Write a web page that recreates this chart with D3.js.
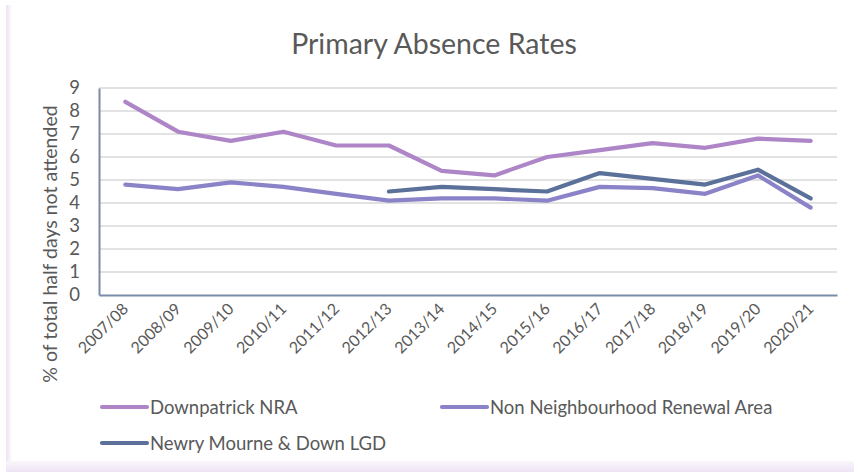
<!DOCTYPE html>
<html>
<head>
<meta charset="utf-8">
<script src="https://cdn.jsdelivr.net/npm/d3@7/dist/d3.min.js"></script>
<style>
  html, body { margin: 0; padding: 0; background: #fff; }
  svg { display: block; }
</style>
</head>
<body>
<svg id="chart" width="854" height="472"></svg>
<script>
// School years on the category axis
const years = ["2007/08","2008/09","2009/10","2010/11","2011/12","2012/13","2013/14",
               "2014/15","2015/16","2016/17","2017/18","2018/19","2019/20","2020/21"];

// % of total half days not attended
const downpatrickNRA = [8.4, 7.1, 6.7, 7.1, 6.5, 6.5, 5.4, 5.2, 6.0, 6.3, 6.6, 6.4, 6.8, 6.7];
const nonNRA         = [4.8, 4.6, 4.9, 4.7, 4.4, 4.1, 4.2, 4.2, 4.1, 4.7, 4.65, 4.4, 5.2, 3.8];
const newryLGD       = [null, null, null, null, null, 4.5, 4.7, 4.6, 4.5, 5.3, 5.05, 4.8, 5.45, 4.2];

const yTicks = [0, 1, 2, 3, 4, 5, 6, 7, 8, 9];

const seriesNames  = ["Downpatrick NRA", "Non Neighbourhood Renewal Area", "Newry Mourne & Down LGD"];
const seriesValues = [downpatrickNRA, nonNRA, newryLGD];
const seriesColors = ["#AE86C8", "#8A83C8", "#5B7199"];

const svg = d3.select("#chart");
const W = 854, H = 472;
const font = "Lato, 'Noto Sans', sans-serif";

// soft lavender frame round the chart
const defs = svg.append("defs");
const gb = defs.append("linearGradient").attr("id", "gBottom").attr("x1", 0).attr("y1", 0).attr("x2", 0).attr("y2", 1);
gb.append("stop").attr("offset", 0).attr("stop-color", "#FAF7FC");
gb.append("stop").attr("offset", 1).attr("stop-color", "#EDE3F5");
const gl = defs.append("linearGradient").attr("id", "gLeft").attr("x1", 0).attr("y1", 0).attr("x2", 1).attr("y2", 0);
gl.append("stop").attr("offset", 0).attr("stop-color", "#EBE1F3");
gl.append("stop").attr("offset", 1).attr("stop-color", "#FFFFFF");
svg.append("rect").attr("x", 0).attr("y", 0).attr("width", W).attr("height", H).attr("fill", "#fff");
svg.append("rect").attr("x", 6).attr("y", 5).attr("width", 6).attr("height", 457).attr("fill", "url(#gLeft)");
svg.append("rect").attr("x", 6).attr("y", 461).attr("width", W - 6).attr("height", 11).attr("fill", "url(#gBottom)");

const plot = { left: 99, right: 837, top: 88, bottom: 295 };

const x = d3.scaleBand().domain(years).range([plot.left, plot.right]).padding(0);
const y = d3.scaleLinear().domain([0, 9]).range([plot.bottom, plot.top]);
const cx = d => x(d) + x.bandwidth() / 2;

// title
svg.append("text")
  .attr("x", 434).attr("y", 54)
  .attr("text-anchor", "middle")
  .attr("font-family", font).attr("font-size", 28.5)
  .attr("fill", "#595959")
  .text("Primary Absence Rates");

// horizontal gridlines
svg.append("g")
  .selectAll("line")
  .data(yTicks.filter(t => t > 0))
  .join("line")
  .attr("x1", plot.left).attr("x2", plot.right)
  .attr("y1", d => y(d)).attr("y2", d => y(d))
  .attr("stroke", "#D9D9D9").attr("stroke-width", 1.5);

// y axis
const yAxis = svg.append("g")
  .attr("transform", `translate(${plot.left},0)`)
  .call(d3.axisLeft(y).tickValues(yTicks).tickSize(0).tickPadding(19));
yAxis.select(".domain").attr("stroke", "#7A8BA9").attr("stroke-width", 2);
yAxis.selectAll("text").attr("font-family", font).attr("font-size", 18.5).attr("fill", "#595959");

// x axis
const xAxis = svg.append("g")
  .attr("transform", `translate(0,${plot.bottom})`)
  .call(d3.axisBottom(x).tickSize(0).tickFormat(() => ""));
xAxis.select(".domain").attr("stroke", "#7A8BA9").attr("stroke-width", 2);

svg.append("g")
  .selectAll("text")
  .data(years)
  .join("text")
  .attr("transform", d => `translate(${cx(d) + 4},${plot.bottom + 15}) rotate(-45)`)
  .attr("text-anchor", "end")
  .attr("font-family", font).attr("font-size", 16)
  .attr("fill", "#595959")
  .text(d => d);

// y axis title
svg.append("text")
  .attr("transform", `translate(57,244) rotate(-90)`)
  .attr("text-anchor", "middle")
  .attr("font-family", font).attr("font-size", 19.5)
  .attr("fill", "#595959")
  .text("% of total half days not attended");

// series lines
const line = d3.line()
  .defined(d => d.v !== null)
  .x(d => cx(d.year))
  .y(d => y(d.v));

seriesValues.forEach((vals, i) => {
  const pts = years.map((yr, j) => ({ year: yr, v: vals[j] }));
  svg.append("path")
    .datum(pts)
    .attr("d", line)
    .attr("fill", "none")
    .attr("stroke", seriesColors[i])
    .attr("stroke-width", 4.2)
    .attr("stroke-linecap", "round")
    .attr("stroke-linejoin", "round");
});

// legend
const legendPos = [[100, 407], [440, 407], [100, 443]];
seriesNames.forEach((name, i) => {
  const [lx, ly] = legendPos[i];
  svg.append("line")
    .attr("x1", lx + 2).attr("x2", lx + 47)
    .attr("y1", ly).attr("y2", ly)
    .attr("stroke", seriesColors[i]).attr("stroke-width", 4.2)
    .attr("stroke-linecap", "round");
  svg.append("text")
    .attr("x", lx + 50).attr("y", ly + 6.5)
    .attr("font-family", font).attr("font-size", 18.5)
    .attr("fill", "#595959")
    .text(name);
});
</script>
</body>
</html>
